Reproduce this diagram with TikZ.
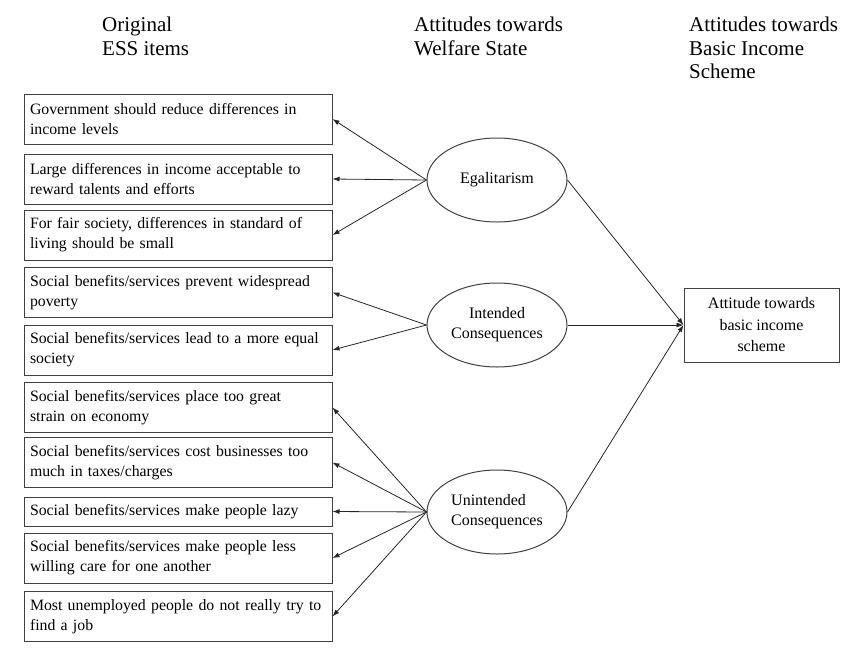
\documentclass[tikz,border=0pt]{standalone}
\usepackage{fontspec}
\setmainfont{Liberation Serif}
\usetikzlibrary{shapes.geometric,arrows.meta}

\begin{document}
\begin{tikzpicture}[x=1pt,y=-1pt,>={Latex[length=7pt,width=5pt]},
 item/.style={draw=black!75,line width=1pt,text width=296pt,inner xsep=6pt,
  minimum height=50pt,align=left,font=\fontsize{15.8}{20}\selectfont},
 latent/.style={draw=black!75,line width=1pt,ellipse,minimum width=140pt,
  minimum height=84pt,inner sep=0pt,font=\fontsize{16}{20}\selectfont},
 outcome/.style={draw=black!75,line width=1pt,minimum width=155pt,
  minimum height=74pt,inner sep=0pt,align=center,font=\fontsize{16}{21.5}\selectfont},
 head/.style={anchor=north west,inner sep=0pt,align=left,
  font=\fontsize{21}{23.5}\selectfont},
 path/.style={->,line width=.8pt,black!85}]
 \useasboundingbox (0,0) rectangle (849,654);

 % column headings
 \node[head] (h1) at (102,17) {Original\\ESS items};
 \node[head] (h2) at (414,17) {Attitudes towards\\Welfare State};
 \node[head] (h3) at (689,17) {Attitudes towards\\Basic Income\\Scheme};

 % ESS items
 \node[item] (e1) at (178,119) {Government should reduce differences in\\income levels};
 \node[item] (e2) at (178,179) {Large differences in income acceptable to\\reward talents and efforts};
 \node[item] (e3) at (178,235) {For fair society, differences in standard of\\living should be small};
 \node[item] (e4) at (178,292.5) {Social benefits/services prevent widespread\\poverty};
 \node[item] (e5) at (178,350) {Social benefits/services lead to a more equal\\society};
 \node[item] (e6) at (178,407.5) {Social benefits/services place too great\\strain on economy};
 \node[item] (e7) at (178,462.5) {Social benefits/services cost businesses too\\much in taxes/charges};
 \node[item,minimum height=29pt] (e8) at (178,511.5) {Social benefits/services make people lazy};
 \node[item] (e9) at (178,558) {Social benefits/services make people less\\willing care for one another};
 \node[item] (e10) at (178,616.5) {Most unemployed people do not really try to\\find a job};

 % latent attitudes
 \node[latent] (egal) at (497,180) {Egalitarism};
 \node[latent,align=center] (inten) at (497,325) {Intended\\Consequences};
 \node[latent,align=left] (uninten) at (497,512) {Unintended\\Consequences};
 \node[outcome] (bis) at (761.5,325) {Attitude towards\\basic income\\scheme};

 \draw[path] (egal.west)--(e1.east);
 \draw[path] (egal.west)--(e2.east);
 \draw[path] (egal.west)--(e3.east);
 \draw[path] (inten.west)--(e4.east);
 \draw[path] (inten.west)--(e5.east);
 \draw[path] (uninten.west)--(e6.east);
 \draw[path] (uninten.west)--(e7.east);
 \draw[path] (uninten.west)--(e8.east);
 \draw[path] (uninten.west)--(e9.east);
 \draw[path] (uninten.west)--(e10.east);

 \draw[path] (egal.east)--(bis.west);
 \draw[path] (inten.east)--(bis.west);
 \draw[path] (uninten.east)--(bis.west);
\end{tikzpicture}
\end{document}
